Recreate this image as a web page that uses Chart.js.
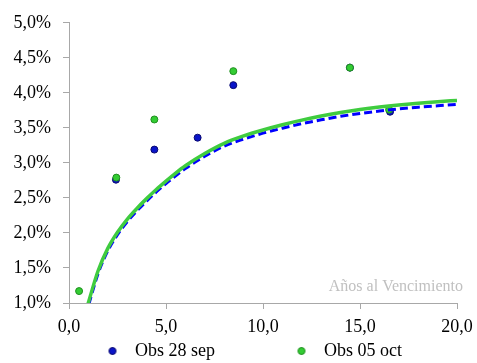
<!DOCTYPE html>
<html lang="es">
<head>
<meta charset="UTF-8">
<title>Curva de rendimientos</title>
<script src="https://cdn.jsdelivr.net/npm/chart.js@4.4.1/dist/chart.umd.min.js"></script>
<style>
  body { margin: 0; background: #fff; }
  #wrap { width: 477px; height: 363px; }
</style>
</head>
<body>
<div id="wrap"><canvas id="curva"></canvas></div>
<script>
// Observaciones (años, tasa %)
const obs28x = [2.42, 4.40, 6.63, 8.47, 14.48, 16.55];
const obs28y = [2.76, 3.19, 3.36, 4.11, 4.36, 3.73];
const obs05x = [0.52, 2.44, 4.40, 8.47, 14.48, 16.50];
const obs05y = [1.17, 2.79, 3.62, 4.31, 4.36, 3.76];

// Curvas ajustadas
const curva28x = [1.02, 1.5, 2, 2.5, 3, 3.5, 4, 4.5, 5, 5.5, 6, 7, 8, 9, 10, 11, 12, 13, 14, 15, 16, 17, 18, 19, 20];
const curva28 = [0.98, 1.42, 1.745, 1.975, 2.16, 2.315, 2.455, 2.585, 2.705, 2.815, 2.92, 3.095, 3.24, 3.34, 3.425, 3.495, 3.56, 3.615, 3.665, 3.705, 3.74, 3.77, 3.795, 3.815, 3.835];
const curva05x = [0.98, 1.5, 2, 2.5, 3, 3.5, 4, 4.5, 5, 5.5, 6, 7, 8, 9, 10, 11, 12, 13, 14, 15, 16, 17, 18, 19, 20];
const curva05 = [0.99, 1.46, 1.78, 2.01, 2.195, 2.35, 2.49, 2.62, 2.74, 2.855, 2.96, 3.135, 3.28, 3.385, 3.47, 3.545, 3.611, 3.669, 3.719, 3.762, 3.798, 3.828, 3.853, 3.874, 3.892];

const xTicks = [0, 5, 10, 15, 20];
const yTicks = [1, 1.5, 2, 2.5, 3, 3.5, 4, 4.5, 5];
const etiquetas = ['Obs 28 sep', 'Obs 05 oct'];
const tituloX = 'Años al Vencimiento';

const azul = '#0a14c8', azulBorde = '#0a0a70';
const verde = '#33cc33', verdeBorde = '#1f8f1f';

const pares = (xs, ys) => xs.map((x, i) => ({ x: x, y: ys[i] }));
const coma = (v) => v.toFixed(1).replace('.', ',');

// punto de leyenda desplazado dentro de un lienzo ancho
function puntoLeyenda(fill, borde) {
    const c = document.createElement('canvas');
    c.width = 80; c.height = 10;
    const g = c.getContext('2d');
    g.beginPath();
    g.arc(40 + 34, 5, 3.5, 0, Math.PI * 2);
    g.fillStyle = fill; g.fill();
    g.lineWidth = 1; g.strokeStyle = borde; g.stroke();
    return c;
}
const estilosLeyenda = [puntoLeyenda(azul, azulBorde), puntoLeyenda(verde, verdeBorde)];

const rotuloInterior = {
    id: 'rotuloInterior',
    afterLayout(chart) {
        // la leyenda empieza más a la derecha que el borde del lienzo
        chart.legend.left = chart.chartArea.left - 43;
    },
    afterDraw(chart) {
        const { ctx, chartArea } = chart;
        ctx.save();
        ctx.font = '16px "Liberation Serif", "Times New Roman", serif';
        ctx.fillStyle = '#c0c0c0';
        ctx.textAlign = 'right';
        ctx.textBaseline = 'alphabetic';
        ctx.fillText(tituloX, chartArea.right + 6, chartArea.bottom - 12);
        ctx.restore();
    }
};

const ejeGris = '#a8a8a8';
const fuente = { family: '"Liberation Serif", "Times New Roman", serif', size: 18 };

new Chart(document.getElementById('curva'), {
    type: 'scatter',
    data: {
        datasets: [
            {
                label: etiquetas[0], data: pares(obs28x, obs28y), order: 3,
                backgroundColor: azul, borderColor: azulBorde, borderWidth: 1, pointRadius: 3.5
            },
            {
                label: etiquetas[1], data: pares(obs05x, obs05y), order: 2,
                backgroundColor: verde, borderColor: verdeBorde, borderWidth: 1, pointRadius: 3.5
            },
            {
                label: 'curva 28', data: pares(curva28x, curva28), order: 1,
                showLine: true, pointRadius: 0, borderColor: '#0000ff', borderWidth: 3,
                borderDash: [8, 4], cubicInterpolationMode: 'monotone'
            },
            {
                label: 'curva 05', data: pares(curva05x, curva05), order: 0,
                showLine: true, pointRadius: 0, borderColor: '#3fcc3f', borderWidth: 3.5,
                cubicInterpolationMode: 'monotone'
            }
        ]
    },
    options: {
        responsive: true,
        maintainAspectRatio: false,
        animation: false,
        layout: { padding: { left: 0, right: 20, top: 20, bottom: 0 } },
        scales: {
            x: {
                type: 'linear', min: 0, max: 20,
                afterBuildTicks: (s) => { s.ticks = xTicks.map(v => ({ value: v })); },
                afterFit: (s) => { s.height = 34; },
                ticks: {
                    color: '#000', font: Object.assign({ lineHeight: 1.6 }, fuente),
                    padding: 4, maxRotation: 0, callback: (v) => coma(v)
                },
                grid: { drawOnChartArea: false, drawTicks: true, tickLength: 6, color: ejeGris },
                border: { color: ejeGris, width: 1 }
            },
            y: {
                min: 1, max: 5,
                afterBuildTicks: (s) => { s.ticks = yTicks.map(v => ({ value: v })); },
                afterFit: (s) => { s.width = 69; },
                ticks: { color: '#000', font: fuente, padding: 12, callback: (v) => coma(v) + '%' },
                grid: { drawOnChartArea: false, drawTicks: true, tickLength: 6, color: ejeGris },
                border: { color: ejeGris, width: 1 }
            }
        },
        plugins: {
            tooltip: { enabled: false },
            legend: {
                position: 'bottom',
                align: 'start',
                maxHeight: 26,
                labels: {
                    usePointStyle: true,
                    pointStyleWidth: 95,
                    boxHeight: 7,
                    padding: 5,
                    color: '#000',
                    font: fuente,
                    generateLabels: (chart) => Chart.defaults.plugins.legend.labels.generateLabels(chart)
                        .filter(l => l.datasetIndex < 2)
                        .sort((a, b) => a.datasetIndex - b.datasetIndex)
                        .map(l => Object.assign(l, { pointStyle: estilosLeyenda[l.datasetIndex] }))
                }
            }
        }
    },
    plugins: [rotuloInterior]
});
</script>
</body>
</html>
